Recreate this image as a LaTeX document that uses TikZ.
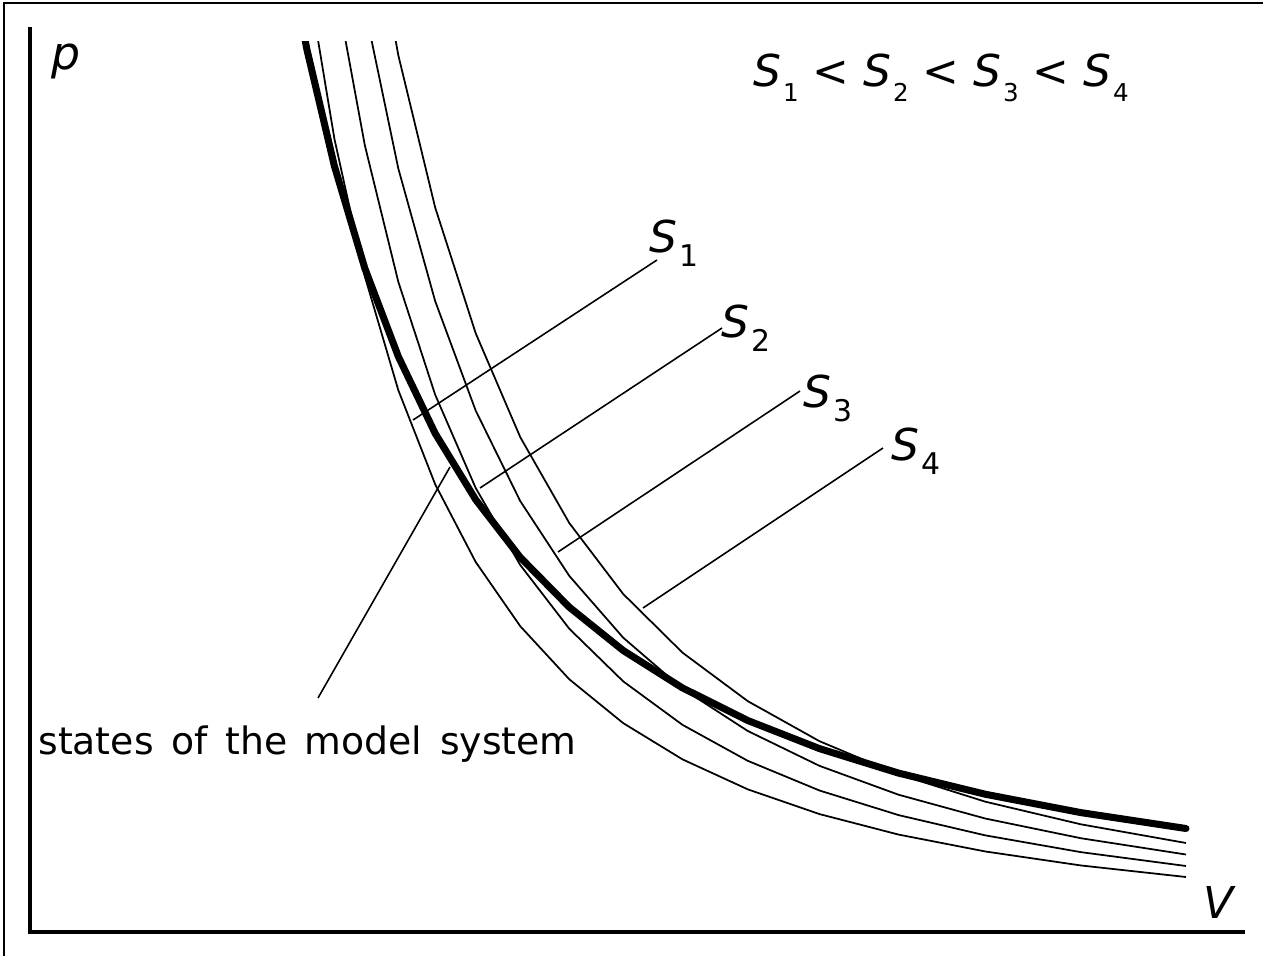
\documentclass[tikz,border=0pt]{standalone}
\usepackage{fontspec}
\setmainfont{DejaVu Sans}
\newcommand{\Ssub}[2][17]{\textit{S}\raisebox{-8.5pt}{\fontsize{#1}{#1}\selectfont\kern1pt #2}}
\newcommand{\widewords}{\spaceskip=10pt\relax}
\begin{document}
\begin{tikzpicture}[x=0.02cm,y=-0.02cm,
  frame/.style={line width=1.1pt},
  axis/.style={line width=2.2pt},
  adiabat/.style={line width=1pt, line join=round},
  statecurve/.style={line width=4pt, line join=round, line cap=round},
  leader/.style={line width=0.9pt},
  lab/.style={inner sep=0pt, font=\fontsize{25}{30}\selectfont},
  captxt/.style={inner sep=0pt, font=\fontsize{21.5}{26}\selectfont},
]
\useasboundingbox (0,0) rectangle (1263,956);
% frame
\draw[frame] (4,956) -- (4,3) -- (1263,3);
% axes
\draw[axis] (30,27) -- (30,932) -- (1245,932);
\node[lab, font=\fontsize{26}{30}\selectfont\itshape, anchor=base west] (p) at (51,70) {p};
\node[lab, font=\fontsize{25}{30}\selectfont\itshape, anchor=base] (V) at (1219,918) {V};
% curves
\begin{scope}
\clip (0,42) rectangle (1263,956);
\foreach \k in {55,66,77.5,89}{
  \draw[adiabat] plot[domain=0:16, samples=17] ({30+1156/1.1^\x}, {932-\k*1.1^(2*\x)});
}
\draw[statecurve] plot[domain=0:16, samples=17] ({30+1156/1.1^\x}, {932-103.5*1.1^(1.5*\x)});
\end{scope}
% relation
\node[lab, anchor=base west] (rel) at (753,87) {\Ssub[14]{1} < \Ssub[14]{2} < \Ssub[14]{3} < \Ssub[14]{4}};
% labels
\node[lab, anchor=base west] (s1) at (649,252) {\Ssub{1}};
\node[lab, anchor=base west] (s2) at (721,337) {\Ssub{2}};
\node[lab, anchor=base west] (s3) at (803,407) {\Ssub{3}};
\node[lab, anchor=base west] (s4) at (891,460) {\Ssub{4}};
\coordinate (t1) at (657,260);
\coordinate (t2) at (722,328);
\coordinate (t3) at (800,391);
\coordinate (t4) at (883,448);
\coordinate (e1) at (413,420);
\coordinate (e2) at (480,488);
\coordinate (e3) at (558,552);
\coordinate (e4) at (643,608);
\draw[leader] (t1) -- (e1);
\draw[leader] (t2) -- (e2);
\draw[leader] (t3) -- (e3);
\draw[leader] (t4) -- (e4);
% caption
\node[captxt, anchor=base west] (cap) at (38,754) {\widewords states of the model system};
\coordinate (m1) at (318,698);
\coordinate (m2) at (450,467);
\draw[leader] (m1) -- (m2);
\end{tikzpicture}
\end{document}
